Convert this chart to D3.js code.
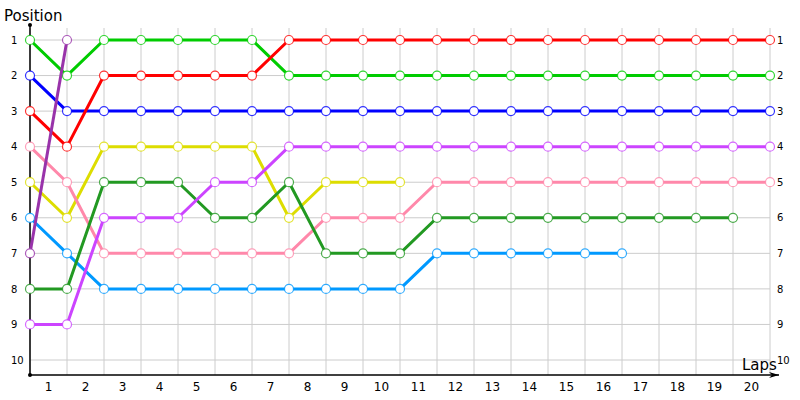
<!DOCTYPE html>
<html>
<head>
<meta charset="utf-8">
<script src="https://cdn.jsdelivr.net/npm/d3@7"></script>
<style>
  body { margin: 0; background: #fff; }
  svg { display: block; }
</style>
</head>
<body>
<div id="chart-container"></div>
<script>
// Lap numbers shown under the axis and the positions on the side
const lapLabels = d3.range(1, 21).map(String);
const positionTicks = [1, 2, 3, 4, 5, 6, 7, 8, 9, 10];

// Position of each car after each lap (index 0 = start grid)
const redCar = [3, 4, 2, 2, 2, 2, 2, 1, 1, 1, 1, 1, 1, 1, 1, 1, 1, 1, 1, 1, 1];
const greenCar = [1, 2, 1, 1, 1, 1, 1, 2, 2, 2, 2, 2, 2, 2, 2, 2, 2, 2, 2, 2, 2];
const blueCar = [2, 3, 3, 3, 3, 3, 3, 3, 3, 3, 3, 3, 3, 3, 3, 3, 3, 3, 3, 3, 3];
const violetCar = [9, 9, 6, 6, 6, 5, 5, 4, 4, 4, 4, 4, 4, 4, 4, 4, 4, 4, 4, 4, 4];
const pinkCar = [4, 5, 7, 7, 7, 7, 7, 7, 6, 6, 6, 5, 5, 5, 5, 5, 5, 5, 5, 5, 5];
const yellowCar = [5, 6, 4, 4, 4, 4, 4, 6, 5, 5, 5];
const darkGreenCar = [8, 8, 5, 5, 5, 6, 6, 5, 7, 7, 7, 6, 6, 6, 6, 6, 6, 6, 6, 6];
const skyBlueCar = [6, 7, 8, 8, 8, 8, 8, 8, 8, 8, 8, 7, 7, 7, 7, 7, 7];
const plumCar = [7, 1];

const series = [
  { values: yellowCar, color: "#dddd00" },
  { values: pinkCar, color: "#ff88aa" },
  { values: skyBlueCar, color: "#0099ff" },
  { values: darkGreenCar, color: "#229922" },
  { values: violetCar, color: "#cc44ff" },
  { values: blueCar, color: "#0000ff" },
  { values: greenCar, color: "#00cc00" },
  { values: redCar, color: "#ff0000" },
  { values: plumCar, color: "#9933aa" }
];

const W = 800, H = 400;
const plotLeft = 30, plotRight = 770, plotTop = 40, plotBottom = 360, axisY = 375;

const x = d3.scaleLinear().domain([0, 20]).range([plotLeft, plotRight]);
const y = d3.scaleLinear().domain([1, 10]).range([plotTop, plotBottom]);
const lapBand = d3.scaleBand().domain(lapLabels).range([plotLeft, plotRight]);

const svg = d3.select("#chart-container")
  .append("svg")
  .attr("width", W)
  .attr("height", H);

svg.append("defs").append("marker")
  .attr("id", "arrow")
  .attr("viewBox", "0 0 10 6")
  .attr("refX", 10)
  .attr("refY", 3)
  .attr("markerWidth", 10)
  .attr("markerHeight", 6)
  .attr("markerUnits", "userSpaceOnUse")
  .attr("orient", "auto")
  .append("path")
  .attr("d", "M0,0 L10,3 L0,6 L3,3 Z")
  .attr("fill", "#000");

// Gridlines
svg.append("g")
  .selectAll("line")
  .data(d3.range(0, 21))
  .join("line")
  .attr("x1", d => x(d)).attr("x2", d => x(d))
  .attr("y1", 28).attr("y2", axisY)
  .attr("stroke", "#cccccc");

svg.append("g")
  .selectAll("line")
  .data(positionTicks)
  .join("line")
  .attr("x1", plotLeft).attr("x2", plotRight)
  .attr("y1", d => y(d)).attr("y2", d => y(d))
  .attr("stroke", "#cccccc");

// Axes lines
svg.append("line")
  .attr("x1", plotLeft).attr("x2", plotLeft)
  .attr("y1", 25).attr("y2", axisY)
  .attr("stroke", "#000").attr("stroke-width", 1.5);
svg.append("circle").attr("cx", plotLeft).attr("cy", 25).attr("r", 2).attr("fill", "#000");
svg.append("circle").attr("cx", plotLeft).attr("cy", axisY).attr("r", 2).attr("fill", "#000");

svg.append("line")
  .attr("x1", plotLeft).attr("x2", 779)
  .attr("y1", axisY).attr("y2", axisY)
  .attr("stroke", "#000").attr("stroke-width", 1.5)
  .attr("marker-end", "url(#arrow)");

// Left tick labels
svg.append("g")
  .attr("transform", `translate(${plotLeft},0)`)
  .style("font-family", "DejaVu Sans, sans-serif")
  .style("font-size", "10px")
  .call(d3.axisLeft(y).tickValues(positionTicks).tickSize(0).tickPadding(10))
  .call(g => g.select(".domain").remove())
  .selectAll(".tick text")
  .attr("fill", "#000")
  .attr("text-anchor", "start")
  .attr("x", -19);

// Right tick labels
svg.append("g")
  .attr("transform", `translate(${plotRight},0)`)
  .style("font-family", "DejaVu Sans, sans-serif")
  .style("font-size", "10px")
  .call(d3.axisRight(y).tickValues(positionTicks).tickSize(0).tickPadding(7))
  .call(g => g.select(".domain").remove())
  .selectAll(".tick text")
  .attr("fill", "#000");

// Lap labels centred between gridlines
svg.append("g")
  .attr("transform", `translate(0,${axisY})`)
  .style("font-family", "DejaVu Sans, sans-serif")
  .style("font-size", "12px")
  .call(d3.axisBottom(lapBand).tickSize(0).tickPadding(7))
  .call(g => g.select(".domain").remove())
  .selectAll(".tick text")
  .attr("fill", "#000");

// Axis titles
svg.append("text")
  .attr("x", 4).attr("y", 21)
  .style("font-family", "DejaVu Sans, sans-serif")
  .style("font-size", "15px")
  .text("Position");
svg.append("text")
  .attr("x", 742).attr("y", 370)
  .style("font-family", "DejaVu Sans, sans-serif")
  .style("font-size", "15px")
  .text("Laps");

// Lines and markers
const line = d3.line()
  .x((d, i) => x(i))
  .y(d => y(d));

series.forEach(s => {
  const g = svg.append("g");
  g.append("path")
    .datum(s.values)
    .attr("fill", "none")
    .attr("stroke", s.color)
    .attr("stroke-width", 3)
    .attr("stroke-linejoin", "round")
    .attr("d", line);
  g.selectAll("circle")
    .data(s.values)
    .join("circle")
    .attr("cx", (d, i) => x(i))
    .attr("cy", d => y(d))
    .attr("r", 4.5)
    .attr("fill", "#fff")
    .attr("stroke", s.color)
    .attr("stroke-opacity", 0.8)
    .attr("stroke-width", 1.2);
});
</script>
</body>
</html>
